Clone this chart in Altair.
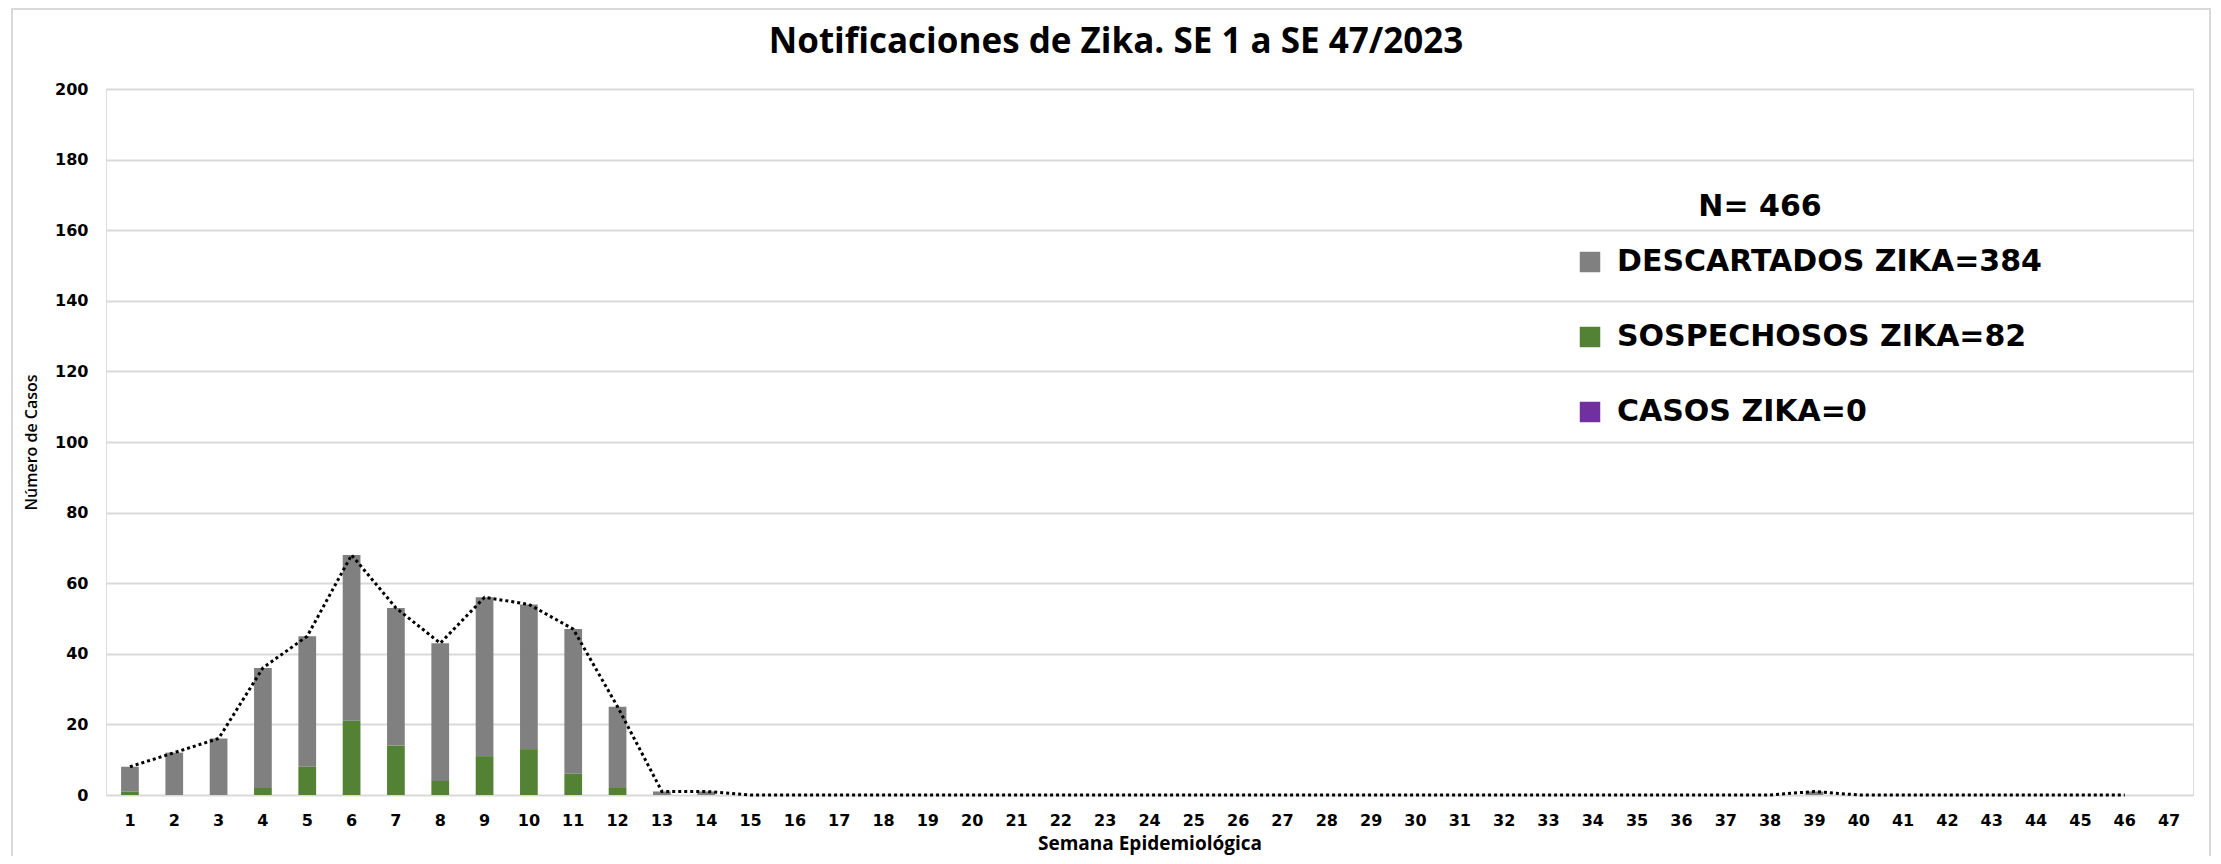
import altair as alt
import pandas as pd

# ---- data ----
weeks = list(range(1, 48))
descartados = [7, 12, 16, 34, 37, 47, 39, 39, 45, 41, 41, 23, 1, 1, 0, 0,
               0, 0, 0, 0, 0, 0, 0, 0, 0, 0, 0, 0, 0, 0, 0, 0,
               0, 0, 0, 0, 0, 0, 1, 0, 0, 0, 0, 0, 0, 0, 0]
sospechosos = [1, 0, 0, 2, 8, 21, 14, 4, 11, 13, 6, 2, 0, 0, 0, 0,
               0, 0, 0, 0, 0, 0, 0, 0, 0, 0, 0, 0, 0, 0, 0, 0,
               0, 0, 0, 0, 0, 0, 0, 0, 0, 0, 0, 0, 0, 0, 0]
casos = [0] * 47
line_last_week = 46

series_labels = ["DESCARTADOS ZIKA=384", "SOSPECHOSOS ZIKA=82", "CASOS ZIKA=0"]
series_colors = ["#808080", "#548235", "#7030A0"]
stack_order = [1, 0, 2]
header_text = ["N= 466"]
title_text = ["Notificaciones de Zika. SE 1 a SE 47/2023"]
x_title = "Semana Epidemiológica"
y_title = "Número de Casos"

# ---- tables ----
rows = []
for i, w in enumerate(weeks):
    for lab, vals, o in zip(series_labels, [descartados, sospechosos, casos], stack_order):
        rows.append({"semana": w, "serie": lab, "valor": vals[i], "orden": o})
bars_df = pd.DataFrame(rows)

line_df = pd.DataFrame({
    "semana": weeks,
    "total": [d + s + c for d, s, c in zip(descartados, sospechosos, casos)],
})
line_df = line_df[line_df["semana"] <= line_last_week]

W, H = 2087, 706
GRID = "#D9D9D9"

x_enc = alt.X(
    "semana:O",
    scale=alt.Scale(domain=weeks, paddingInner=0.6, paddingOuter=0.34),
    axis=alt.Axis(
        title=x_title, labelAngle=0, labelFont="DejaVu Sans", labelFontWeight="bold",
        labelFontSize=16, labelColor="#000000", labelPadding=17, ticks=False,
        domain=False, grid=False, titleFont="Open Sans", titleFontWeight="bold",
        titleFontSize=19, titleColor="#000000", titlePadding=6,
    ),
)

bars = alt.Chart(bars_df).mark_bar().encode(
    x=x_enc,
    y=alt.Y(
        "valor:Q", stack="zero",
        scale=alt.Scale(domain=[0, 200]),
        axis=alt.Axis(
            title=y_title, values=list(range(0, 201, 20)), labelFont="DejaVu Sans",
            labelFontWeight="bold", labelFontSize=16, labelColor="#000000",
            labelPadding=18, ticks=False, domain=False, grid=True, gridColor=GRID,
            gridWidth=2, titleFont="Open Sans", titleFontWeight=600,
            titleFontSize=16, titleColor="#000000", titleX=-75, titleY=H / 2,
            titleAngle=270, titleAlign="center", titleBaseline="middle",
        ),
    ),
    color=alt.Color(
        "serie:N",
        scale=alt.Scale(domain=series_labels, range=series_colors),
        legend=alt.Legend(
            title=None, orient="none", legendX=1469, legendY=158,
            symbolType="square", symbolSize=420, symbolStrokeWidth=0,
            labelFont="DejaVu Sans", labelFontWeight="bold", labelFontSize=30,
            labelColor="#000000", rowPadding=45, labelOffset=12, labelLimit=800,
        ),
    ),
    order=alt.Order("orden:Q"),
)

line = alt.Chart(line_df).mark_line(
    color="#000000", strokeDash=[3, 3], strokeWidth=3, interpolate="linear"
).encode(x=alt.X("semana:O"), y=alt.Y("total:Q"))

header = alt.Chart(pd.DataFrame({"t": header_text})).mark_text(
    font="DejaVu Sans", fontWeight="bold", fontSize=30, align="center",
    baseline="middle", color="#000000",
).encode(text="t:N", x=alt.value(1654), y=alt.value(118))

title = alt.Chart(pd.DataFrame({"t": title_text})).mark_text(
    font="Open Sans", fontWeight="bold", fontSize=35, align="center",
    baseline="middle", color="#000000",
).encode(text="t:N", x=alt.value(1010), y=alt.value(-47))

border = alt.Chart(pd.DataFrame({"b": [0]})).mark_rect(
    fillOpacity=0, stroke=GRID, strokeWidth=2
).encode(x=alt.value(-94), x2=alt.value(2104), y=alt.value(-80), y2=alt.value(790))

chart = alt.layer(border, bars, line, header, title).properties(
    width=W, height=H,
    padding={"left": 98, "top": 81, "right": 20, "bottom": 61},
    autosize=alt.AutoSizeParams(type="none"),
).configure_view(stroke=None).configure(background="#FFFFFF")

chart.save("out.html", embed_options={"renderer": "svg", "actions": False})
